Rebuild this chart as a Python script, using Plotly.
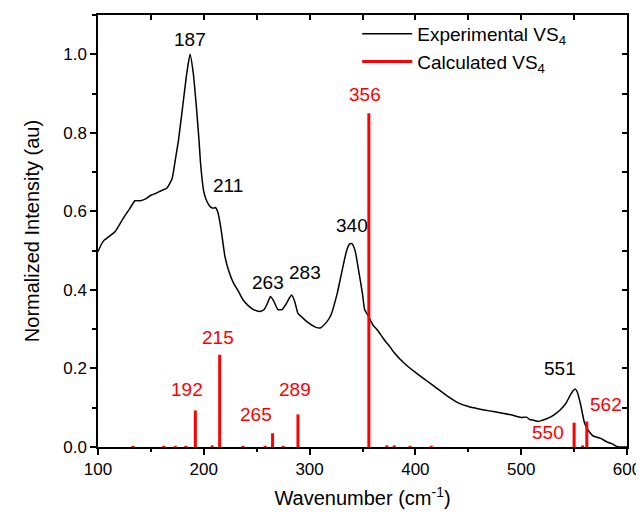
import plotly.graph_objects as go

# Experimental spectrum (wavenumber, normalized intensity)
exp_x = [100, 103, 106, 110, 116, 120, 124, 130, 135, 140, 145, 150, 155, 160, 165,
         170, 173, 176, 180, 184, 187, 190, 193, 195.5, 197, 200, 203, 206, 209, 211,
         213, 216, 220, 224, 228, 233, 237, 242, 247, 253, 257, 260, 263, 266, 270,
         274, 278, 281, 283, 286, 289, 293, 298, 305, 310, 316, 320, 326, 330, 335,
         338, 340, 343, 346, 350, 352, 355, 360, 364, 370, 376, 380, 390, 400, 410,
         420, 430, 440, 450, 460, 470, 480, 490, 500, 505, 508, 512, 516, 520, 524,
         530, 537, 542, 546, 549, 551, 553, 556, 560, 564, 568, 575, 581, 586, 591, 600]
exp_y = [0.497, 0.515, 0.527, 0.535, 0.548, 0.565, 0.583, 0.607, 0.627, 0.627, 0.632, 0.641, 0.646, 0.653, 0.659,
         0.683, 0.730, 0.780, 0.866, 0.953, 1.000, 0.953, 0.866, 0.780, 0.720, 0.650, 0.625, 0.612, 0.608, 0.610,
         0.600, 0.560, 0.485, 0.445, 0.418, 0.395, 0.375, 0.360, 0.350, 0.345, 0.350, 0.365, 0.383, 0.372, 0.350,
         0.350, 0.365, 0.380, 0.387, 0.370, 0.340, 0.330, 0.318, 0.306, 0.303, 0.318, 0.335, 0.390, 0.440, 0.500,
         0.517, 0.518, 0.500, 0.455, 0.390, 0.350, 0.336, 0.310, 0.298, 0.275, 0.255, 0.240, 0.212, 0.190, 0.170,
         0.150, 0.130, 0.113, 0.103, 0.097, 0.092, 0.087, 0.082, 0.075, 0.076, 0.070, 0.068, 0.065, 0.068, 0.072,
         0.080, 0.095, 0.110, 0.130, 0.143, 0.148, 0.140, 0.110, 0.060, 0.040, 0.028, 0.022, 0.013, 0.008, 0.001, 0.0]

# Calculated stick spectrum
calc_x = [133, 162, 173, 183, 192, 208, 215, 237, 258, 265, 275, 289, 356, 373, 380, 395, 415, 550, 558, 562]
calc_y = [0.003, 0.003, 0.003, 0.003, 0.093, 0.004, 0.235, 0.003, 0.003, 0.035, 0.003, 0.083, 0.850, 0.004, 0.004, 0.003, 0.003, 0.062, 0.004, 0.065]

# Peak labels
exp_labels = [187, 211, 263, 283, 340, 551]
calc_labels = [192, 215, 265, 289, 356, 550, 562]

FONT = "Liberation Sans, Arial, sans-serif"

stick_x, stick_y = [], []
for xv, yv in zip(calc_x, calc_y):
    stick_x += [xv, xv, None]
    stick_y += [0, yv, None]

fig = go.Figure()
fig.add_trace(go.Scatter(x=exp_x, y=exp_y, mode="lines",
                         line=dict(color="black", width=1.5, shape="spline", smoothing=0.5),
                         name="Experimental VS<sub>4</sub>"))
fig.add_trace(go.Scatter(x=stick_x, y=stick_y, mode="lines",
                         line=dict(color="#ff0000", width=3),
                         name="Calculated VS<sub>4</sub>"))
# dummy trace to show mirrored top/right axes
fig.add_trace(go.Scatter(x=[None], y=[None], xaxis="x2", yaxis="y2",
                         showlegend=False, hoverinfo="skip"))

def interp(xq):
    for i in range(len(exp_x) - 1):
        if exp_x[i] <= xq <= exp_x[i + 1]:
            t = (xq - exp_x[i]) / (exp_x[i + 1] - exp_x[i])
            return exp_y[i] + t * (exp_y[i + 1] - exp_y[i])
    return 0

# label offsets (pixels) relative to the peak
exp_off = {187: (0, 2), 211: (13, 9), 263: (-2, 2), 283: (13, 10), 340: (0, 6), 551: (-15, 8)}
calc_off = {192: (-8, 8), 215: (-2, 5), 265: (-17, 6), 289: (-3, 12), 356: (-4, 6), 550: (-26, -22), 562: (19, 4)}

for p in exp_labels:
    dx, dy = exp_off[p]
    fig.add_annotation(x=p, y=interp(p), text=str(p), showarrow=False,
                       xanchor="center", yanchor="bottom", xshift=dx, yshift=dy,
                       font=dict(family=FONT, size=19, color="black"))
for p in calc_labels:
    dx, dy = calc_off[p]
    fig.add_annotation(x=p, y=calc_y[calc_x.index(p)], text=str(p), showarrow=False,
                       xanchor="center", yanchor="bottom", xshift=dx, yshift=dy,
                       font=dict(family=FONT, size=19, color="#ff0000"))

fig.update_layout(
    width=636, height=506,
    margin=dict(l=90, r=17, t=7, b=67, autoexpand=False),
    paper_bgcolor="white", plot_bgcolor="white",
    font=dict(family=FONT, size=17, color="black"),
    showlegend=True,
    legend=dict(x=0.49, y=1.0, xanchor="left", yanchor="top",
                bgcolor="rgba(0,0,0,0)", font=dict(family=FONT, size=19),
                tracegroupgap=0, itemwidth=50),
    xaxis=dict(range=[100, 600], dtick=100, tick0=100, showgrid=False, zeroline=False,
               showline=True, linecolor="black", linewidth=1.5, mirror=True, automargin=False,
               ticks="outside", ticklen=6, tickwidth=1.5, tickcolor="black",
               minor=dict(dtick=50, ticks="outside", ticklen=3, tickwidth=1.5, tickcolor="black"),
               title=dict(text="Wavenumber (cm<sup>-1</sup>)", font=dict(size=20), standoff=13),
               tickfont=dict(size=17)),
    yaxis=dict(range=[0, 1.1], dtick=0.2, tick0=0, tickformat=".1f", showgrid=False, zeroline=False,
               showline=True, linecolor="black", linewidth=1.5, mirror=True, automargin=False,
               ticks="outside", ticklen=6, tickwidth=1.5, tickcolor="black",
               minor=dict(dtick=0.1, ticks="outside", ticklen=4, tickwidth=1.5, tickcolor="black"),
               title=dict(text="Normalized Intensity (au)", font=dict(size=20), standoff=18),
               tickfont=dict(size=17)),
    xaxis2=dict(range=[100, 600], overlaying="x", side="top", anchor="y", dtick=50, tick0=100,
                showticklabels=False, ticks="inside", ticklen=5, tickwidth=1.5, tickcolor="black",
                showgrid=False, zeroline=False, showline=False, automargin=False),
    yaxis2=dict(range=[0, 1.1], overlaying="y", side="right", anchor="x", dtick=0.1, tick0=0,
                showticklabels=False, ticks="inside", ticklen=5, tickwidth=1.5, tickcolor="black",
                showgrid=False, zeroline=False, showline=False, automargin=False),
)

fig.write_html("out.html")
